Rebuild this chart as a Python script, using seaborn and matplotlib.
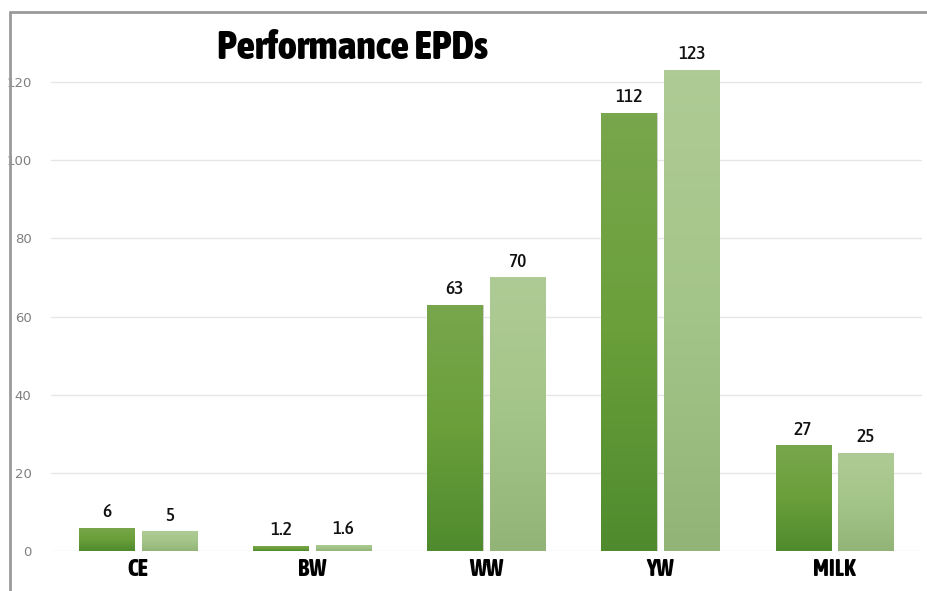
import numpy as np
import pandas as pd
import matplotlib.pyplot as plt
from matplotlib import font_manager as fm
from matplotlib.lines import Line2D
from matplotlib.colors import LinearSegmentedColormap
import seaborn as sns

categories = ['CE', 'BW', 'WW', 'YW', 'MILK']
series_names = ['Series 1', 'Series 2']
series1 = [6, 1.2, 63, 112, 27]
series2 = [5, 1.6, 70, 123, 25]
yticks = [0, 20, 40, 60, 80, 100, 120]

df = pd.DataFrame({
    'trait': categories * 2,
    'series': [series_names[0]] * len(categories) + [series_names[1]] * len(categories),
    'value': series1 + series2,
})

STRETCH_RANK = {'ultra-condensed': 0, 'extra-condensed': 0, 'condensed': 1, 'semi-condensed': 2}


def pick_condensed(weight, size):
    # look for a narrow/condensed face among installed fonts
    best = None
    for f in fm.fontManager.ttflist:
        nm = f.name
        if f.style != 'normal' or any(k in nm for k in ('Mono', 'CJK', 'Serif', 'Display')):
            continue
        st = str(f.stretch)
        if st in STRETCH_RANK:
            r = STRETCH_RANK[st]
        elif 'Narrow' in nm or 'Condensed' in nm:
            r = 1
        else:
            continue
        w = f.weight if isinstance(f.weight, (int, float)) else (700 if 'bold' in str(f.weight) else 400)
        key = (r, abs(w - weight))
        if best is None or key < best[0]:
            best = (key, f.fname)
    if best is None:
        return fm.FontProperties(family='DejaVu Sans', weight=weight, size=size)
    return fm.FontProperties(fname=best[1], size=size)


sns.set_theme(style='white')

fig = plt.figure(figsize=(9.28, 5.91), dpi=100)
ax = fig.add_axes([0.055, 0.0677, 0.938, 0.8595])

sns.barplot(data=df, x='trait', y='value', hue='series', order=categories,
            palette=['#659c3c', '#a3c488'], width=0.72, gap=0.12,
            legend=False, ax=ax)

# gradient fills clipped to each bar
grads = [LinearSegmentedColormap.from_list('dk', ['#4f8b2e', '#6a9f3a', '#78a64c']),
         LinearSegmentedColormap.from_list('lt', ['#92b577', '#a4c589', '#aecb95'])]
value_fp = pick_condensed(500, 14)
for i, cont in enumerate(ax.containers):
    for p in cont.patches:
        x, w, h = p.get_x(), p.get_width(), p.get_height()
        im = ax.imshow(np.linspace(0, 1, 100).reshape(-1, 1), cmap=grads[i],
                       origin='lower', aspect='auto',
                       extent=[x, x + w, 0, h], zorder=2)
        im.set_clip_path(p)
        p.set_edgecolor('#d0d0d0')
        p.set_linewidth(0.7)
    ax.bar_label(cont, fmt='{:g}', padding=5, fontproperties=value_fp, color='#111111')

ax.set_xlim(-0.5, len(categories) - 0.5)
ax.set_ylim(0, 130)
ax.set_yticks(yticks)
ax.yaxis.grid(True, color='#e6e6e6', linewidth=1)
ax.set_axisbelow(True)
for s in ax.spines.values():
    s.set_visible(False)
ax.set_xlabel('')
ax.set_ylabel('')
ax.tick_params(axis='y', length=0, pad=14, labelsize=9.5, labelcolor='#7f7f7f')
ax.tick_params(axis='x', length=0, pad=5)
xlab_fp = pick_condensed(800, 17)
for lab in ax.get_xticklabels():
    lab.set_fontproperties(xlab_fp)
    lab.set_color('#000000')

fig.text(0.38, 0.918, 'Performance EPDs', fontproperties=pick_condensed(800, 29),
         ha='center', va='center', color='#000000')

# frame lines on the left and top
fig.add_artist(Line2D([0.0113, 0.0113], [0.0, 0.98], color='#9a9a9a', linewidth=2))
fig.add_artist(Line2D([0.0113, 1.0], [0.98, 0.98], color='#9a9a9a', linewidth=2))

fig.savefig('out.png', dpi=100)
plt.close()
